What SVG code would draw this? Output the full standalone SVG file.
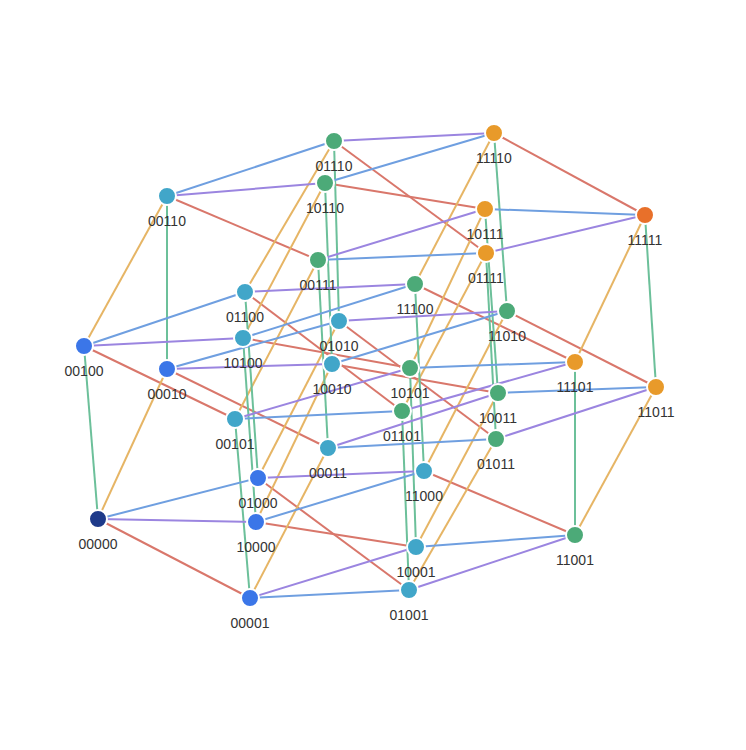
<svg xmlns="http://www.w3.org/2000/svg" width="746" height="750" viewBox="0 0 746 750">
<style>
line{stroke-width:2}
.r{stroke:#d9776b}.o{stroke:#e6b565}.g{stroke:#6cc09a}.b{stroke:#6f9fe0}.p{stroke:#9b85e0}
circle{stroke:#fff;stroke-width:2}
text{font-family:"Liberation Sans",Arial,sans-serif;font-size:14px;fill:#333;text-anchor:middle}
.n0{fill:#1e3a8a}.n1{fill:#3b76e8}.n2{fill:#41a6c9}.n3{fill:#4caa78}.n4{fill:#e89a2a}.n5{fill:#e8702a}
</style>
<rect width="746" height="750" fill="#fff"/>
<g id="edges">
<line class="r" x1="98" y1="519" x2="250" y2="598"/>
<line class="r" x1="167" y1="369" x2="328" y2="448"/>
<line class="r" x1="84" y1="346" x2="235" y2="419"/>
<line class="r" x1="167" y1="196" x2="318" y2="260"/>
<line class="r" x1="258" y1="478" x2="409" y2="590"/>
<line class="r" x1="339" y1="321" x2="496" y2="439"/>
<line class="r" x1="245" y1="292" x2="402" y2="411"/>
<line class="r" x1="334" y1="141" x2="486" y2="253"/>
<line class="r" x1="256" y1="522" x2="416" y2="547"/>
<line class="r" x1="332" y1="364" x2="498" y2="393"/>
<line class="r" x1="243" y1="338" x2="410" y2="368"/>
<line class="r" x1="325" y1="183" x2="485" y2="209"/>
<line class="r" x1="424" y1="471" x2="575" y2="535"/>
<line class="r" x1="507" y1="311" x2="656" y2="387"/>
<line class="r" x1="415" y1="284" x2="575" y2="362"/>
<line class="r" x1="494" y1="133" x2="645" y2="215"/>
<line class="o" x1="98" y1="519" x2="167" y2="369"/>
<line class="o" x1="250" y1="598" x2="328" y2="448"/>
<line class="o" x1="84" y1="346" x2="167" y2="196"/>
<line class="o" x1="235" y1="419" x2="318" y2="260"/>
<line class="o" x1="258" y1="478" x2="339" y2="321"/>
<line class="o" x1="409" y1="590" x2="496" y2="439"/>
<line class="o" x1="245" y1="292" x2="334" y2="141"/>
<line class="o" x1="402" y1="411" x2="486" y2="253"/>
<line class="o" x1="256" y1="522" x2="332" y2="364"/>
<line class="o" x1="416" y1="547" x2="498" y2="393"/>
<line class="o" x1="243" y1="338" x2="325" y2="183"/>
<line class="o" x1="410" y1="368" x2="485" y2="209"/>
<line class="o" x1="424" y1="471" x2="507" y2="311"/>
<line class="o" x1="575" y1="535" x2="656" y2="387"/>
<line class="o" x1="415" y1="284" x2="494" y2="133"/>
<line class="o" x1="575" y1="362" x2="645" y2="215"/>
<line class="g" x1="98" y1="519" x2="84" y2="346"/>
<line class="g" x1="250" y1="598" x2="235" y2="419"/>
<line class="g" x1="167" y1="369" x2="167" y2="196"/>
<line class="g" x1="328" y1="448" x2="318" y2="260"/>
<line class="g" x1="258" y1="478" x2="245" y2="292"/>
<line class="g" x1="409" y1="590" x2="402" y2="411"/>
<line class="g" x1="339" y1="321" x2="334" y2="141"/>
<line class="g" x1="496" y1="439" x2="486" y2="253"/>
<line class="g" x1="256" y1="522" x2="243" y2="338"/>
<line class="g" x1="416" y1="547" x2="410" y2="368"/>
<line class="g" x1="332" y1="364" x2="325" y2="183"/>
<line class="g" x1="498" y1="393" x2="485" y2="209"/>
<line class="g" x1="424" y1="471" x2="415" y2="284"/>
<line class="g" x1="575" y1="535" x2="575" y2="362"/>
<line class="g" x1="507" y1="311" x2="494" y2="133"/>
<line class="g" x1="656" y1="387" x2="645" y2="215"/>
<line class="b" x1="98" y1="519" x2="258" y2="478"/>
<line class="b" x1="250" y1="598" x2="409" y2="590"/>
<line class="b" x1="167" y1="369" x2="339" y2="321"/>
<line class="b" x1="328" y1="448" x2="496" y2="439"/>
<line class="b" x1="84" y1="346" x2="245" y2="292"/>
<line class="b" x1="235" y1="419" x2="402" y2="411"/>
<line class="b" x1="167" y1="196" x2="334" y2="141"/>
<line class="b" x1="318" y1="260" x2="486" y2="253"/>
<line class="b" x1="256" y1="522" x2="424" y2="471"/>
<line class="b" x1="416" y1="547" x2="575" y2="535"/>
<line class="b" x1="332" y1="364" x2="507" y2="311"/>
<line class="b" x1="498" y1="393" x2="656" y2="387"/>
<line class="b" x1="243" y1="338" x2="415" y2="284"/>
<line class="b" x1="410" y1="368" x2="575" y2="362"/>
<line class="b" x1="325" y1="183" x2="494" y2="133"/>
<line class="b" x1="485" y1="209" x2="645" y2="215"/>
<line class="p" x1="98" y1="519" x2="256" y2="522"/>
<line class="p" x1="250" y1="598" x2="416" y2="547"/>
<line class="p" x1="167" y1="369" x2="332" y2="364"/>
<line class="p" x1="328" y1="448" x2="498" y2="393"/>
<line class="p" x1="84" y1="346" x2="243" y2="338"/>
<line class="p" x1="235" y1="419" x2="410" y2="368"/>
<line class="p" x1="167" y1="196" x2="325" y2="183"/>
<line class="p" x1="318" y1="260" x2="485" y2="209"/>
<line class="p" x1="258" y1="478" x2="424" y2="471"/>
<line class="p" x1="409" y1="590" x2="575" y2="535"/>
<line class="p" x1="339" y1="321" x2="507" y2="311"/>
<line class="p" x1="496" y1="439" x2="656" y2="387"/>
<line class="p" x1="245" y1="292" x2="415" y2="284"/>
<line class="p" x1="402" y1="411" x2="575" y2="362"/>
<line class="p" x1="334" y1="141" x2="494" y2="133"/>
<line class="p" x1="486" y1="253" x2="645" y2="215"/>
</g>
<g id="n00000"><circle class="n0" cx="98" cy="519" r="9"/><text x="98" y="549">00000</text></g>
<g id="n00001"><circle class="n1" cx="250" cy="598" r="9"/><text x="250" y="628">00001</text></g>
<g id="n00010"><circle class="n1" cx="167" cy="369" r="9"/><text x="167" y="399">00010</text></g>
<g id="n00100"><circle class="n1" cx="84" cy="346" r="9"/><text x="84" y="376">00100</text></g>
<g id="n01000"><circle class="n1" cx="258" cy="478" r="9"/><text x="258" y="508">01000</text></g>
<g id="n10000"><circle class="n1" cx="256" cy="522" r="9"/><text x="256" y="552">10000</text></g>
<g id="n00011"><circle class="n2" cx="328" cy="448" r="9"/><text x="328" y="478">00011</text></g>
<g id="n00101"><circle class="n2" cx="235" cy="419" r="9"/><text x="235" y="449">00101</text></g>
<g id="n00110"><circle class="n2" cx="167" cy="196" r="9"/><text x="167" y="226">00110</text></g>
<g id="n01001"><circle class="n2" cx="409" cy="590" r="9"/><text x="409" y="620">01001</text></g>
<g id="n01010"><circle class="n2" cx="339" cy="321" r="9"/><text x="339" y="351">01010</text></g>
<g id="n01100"><circle class="n2" cx="245" cy="292" r="9"/><text x="245" y="322">01100</text></g>
<g id="n10001"><circle class="n2" cx="416" cy="547" r="9"/><text x="416" y="577">10001</text></g>
<g id="n10010"><circle class="n2" cx="332" cy="364" r="9"/><text x="332" y="394">10010</text></g>
<g id="n10100"><circle class="n2" cx="243" cy="338" r="9"/><text x="243" y="368">10100</text></g>
<g id="n11000"><circle class="n2" cx="424" cy="471" r="9"/><text x="424" y="501">11000</text></g>
<g id="n00111"><circle class="n3" cx="318" cy="260" r="9"/><text x="318" y="290">00111</text></g>
<g id="n01011"><circle class="n3" cx="496" cy="439" r="9"/><text x="496" y="469">01011</text></g>
<g id="n01101"><circle class="n3" cx="402" cy="411" r="9"/><text x="402" y="441">01101</text></g>
<g id="n01110"><circle class="n3" cx="334" cy="141" r="9"/><text x="334" y="171">01110</text></g>
<g id="n10011"><circle class="n3" cx="498" cy="393" r="9"/><text x="498" y="423">10011</text></g>
<g id="n10101"><circle class="n3" cx="410" cy="368" r="9"/><text x="410" y="398">10101</text></g>
<g id="n10110"><circle class="n3" cx="325" cy="183" r="9"/><text x="325" y="213">10110</text></g>
<g id="n11001"><circle class="n3" cx="575" cy="535" r="9"/><text x="575" y="565">11001</text></g>
<g id="n11010"><circle class="n3" cx="507" cy="311" r="9"/><text x="507" y="341">11010</text></g>
<g id="n11100"><circle class="n3" cx="415" cy="284" r="9"/><text x="415" y="314">11100</text></g>
<g id="n01111"><circle class="n4" cx="486" cy="253" r="9"/><text x="486" y="283">01111</text></g>
<g id="n10111"><circle class="n4" cx="485" cy="209" r="9"/><text x="485" y="239">10111</text></g>
<g id="n11011"><circle class="n4" cx="656" cy="387" r="9"/><text x="656" y="417">11011</text></g>
<g id="n11101"><circle class="n4" cx="575" cy="362" r="9"/><text x="575" y="392">11101</text></g>
<g id="n11110"><circle class="n4" cx="494" cy="133" r="9"/><text x="494" y="163">11110</text></g>
<g id="n11111"><circle class="n5" cx="645" cy="215" r="9"/><text x="645" y="245">11111</text></g>
</svg>
